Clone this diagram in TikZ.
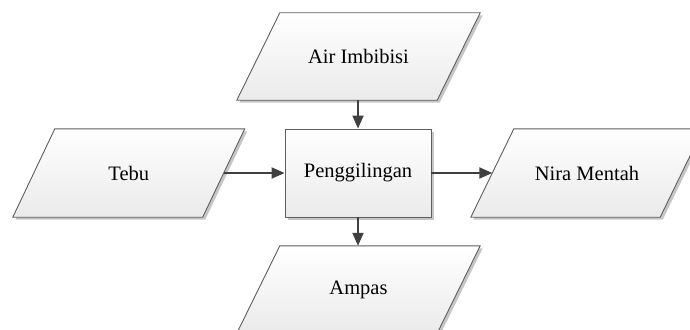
\documentclass[tikz,border=0pt]{standalone}
\usepackage{fontspec}
\setmainfont{Liberation Serif}
\usetikzlibrary{arrows.meta,shadows,backgrounds}
\definecolor{edgegray}{HTML}{5E5E5E}
\definecolor{flowgray}{HTML}{404040}
\definecolor{fillbottom}{HTML}{EAEAEA}

\tikzset{
  labeltext/.style={font=\fontsize{20.5}{24}\selectfont, inner sep=0pt, text=black},
  softshadow/.style={drop shadow={shadow xshift=2.5pt, shadow yshift=-2.5pt,
      fill=gray, opacity=0.45}},
  panelfill/.style={draw=edgegray, line width=0.9pt, top color=white,
      bottom color=fillbottom, softshadow},
  procbox/.style={labeltext, panelfill, rectangle},
  flowline/.style={draw=flowgray, line width=2pt,
      -{Triangle[length=13pt, width=11pt]}},
}

% parallelogram drawn round a text node: #1 node name, #2 half of the slant
\newcommand\ioframe[2]{%
  \path[panelfill] ([xshift=#2]#1.north west) -- ([xshift=#2]#1.north east)
    -- ([xshift=-#2]#1.south east) -- ([xshift=-#2]#1.south west) -- cycle;}

\begin{document}
\begin{tikzpicture}[x=1pt, y=-1pt]
  \clip (0,0) rectangle (690,329);

  % data nodes (text only; frames go on the background layer)
  \node[labeltext, minimum width=200, minimum height=87] (air)   at (358.5,56.5)  {Air Imbibisi};
  \node[labeltext, minimum width=189.5, minimum height=88] (tebu) at (128.75,173) {Tebu};
  \node[labeltext, minimum width=189, minimum height=88] (nira)  at (587,173)     {Nira Mentah};
  \node[labeltext, minimum width=200, minimum height=87] (ampas) at (358.5,289.5) {Ampas};

  % process step
  \node[procbox, minimum width=146, minimum height=88] (mill) at (358,173) {Penggilingan};

  \begin{pgfonlayer}{background}
    \ioframe{air}{21.5pt}
    \ioframe{tebu}{21pt}
    \ioframe{nira}{21.5pt}
    \ioframe{ampas}{21.5pt}
  \end{pgfonlayer}

  % flows
  \draw[flowline] (mill.north |- air.south) -- (mill.north);
  \draw[flowline] (tebu.east) -- (mill.west);
  \draw[flowline] (mill.east) -- (nira.west);
  \draw[flowline] (mill.south) -- (mill.south |- ampas.north);
\end{tikzpicture}
\end{document}
